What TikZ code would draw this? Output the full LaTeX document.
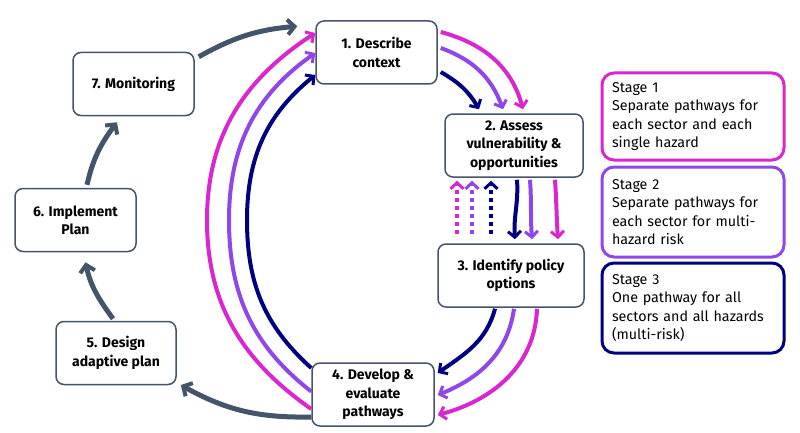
\documentclass[tikz,border=0pt]{standalone}
\usepackage{fontspec}
\setmainfont{Fira Sans}
\usetikzlibrary{arrows.meta}
\definecolor{slate}{RGB}{68,84,106}
\definecolor{mag}{RGB}{218,38,206}
\definecolor{vio}{RGB}{145,70,232}
\definecolor{nav}{RGB}{0,0,128}
\begin{document}
\begin{tikzpicture}[x=1pt,y=1pt,
  stepbox/.style={draw=slate,line width=1.5pt,rounded corners=8pt,fill=white,minimum height=63pt,
    align=center,inner sep=2pt,font=\bfseries\fontsize{14}{18.3}\selectfont},
  stagebox/.style={line width=3pt,rounded corners=12pt,minimum width=182pt,text width=162pt,
    align=left,inner xsep=10pt,font=\fontsize{14.3}{18.3}\selectfont},
  flow/.style={line width=4pt,-{Straight Barb[length=6pt,width=13pt,line width=3pt]}},
  back/.style={slate,line width=5pt,-{Straight Barb[length=7pt,width=15pt,line width=4pt]}},
  dotflow/.style={flow,dash pattern=on 4pt off 4pt}]
\useasboundingbox (0,0) rectangle (800,432);
\node[stepbox,minimum width=121pt] (d1) at (376.5,379.5) {1. Describe\\context};
\node[stepbox,minimum width=138pt] (d2) at (514,286.5) {2. Assess\\vulnerability \&\\opportunities};
\node[stepbox,minimum width=146pt] (d3) at (511,156.5) {3. Identify policy\\options};
\node[stepbox,minimum width=122pt] (d4) at (373,37.5) {4. Develop \&\\evaluate\\pathways};
\node[stepbox,minimum width=120pt] (d5) at (116,79) {5. Design\\adaptive plan};
\node[stepbox,minimum width=121pt] (d6) at (75.5,212) {6. Implement\\Plan};
\node[stepbox,minimum width=121pt] (d7) at (133.5,348) {7. Monitoring};
\node[stagebox,draw=mag,minimum height=87pt] (s1) at (693,315.5)
  {Stage 1\\Separate pathways for\\each sector and each\\single hazard};
\node[stagebox,draw=vio,minimum height=90pt] (s2) at (693,220)
  {Stage 2\\Separate pathways for\\each sector for multi-\\hazard risk};
\node[stagebox,draw=nav,minimum height=90pt] (s3) at (693,124)
  {Stage 3\\One pathway for all\\sectors and all hazards\\(multi-risk)};
\coordinate (ret) at ([xshift=-18pt,yshift=-6pt]d1.north west);
\coordinate (lmag) at (207,212);
\coordinate (lvio) at (229,212);
\coordinate (lnav) at (247,212);
\draw[flow,mag] ([yshift=-14.5pt]d4.west) to[out=145,in=-90] (lmag) to[out=90,in=213] ([yshift=19.5pt]d1.west);
\draw[flow,vio] ([yshift=3pt]d4.west) to[out=142,in=-90] (lvio) to[out=90,in=215] ([yshift=-0.5pt]d1.west);
\draw[flow,nav] ([yshift=26.5pt]d4.west) to[out=138,in=-90] (lnav) to[out=90,in=219] ([yshift=-22.5pt]d1.west);
\draw[flow,mag] ([xshift=3pt,yshift=20.5pt]d1.east) to[out=-15,in=105] ([xshift=9pt,yshift=4pt]d2.north);
\draw[flow,vio] ([xshift=3pt,yshift=4.5pt]d1.east) to[out=-20,in=110] ([xshift=-11pt,yshift=4pt]d2.north);
\draw[flow,nav] ([xshift=3pt,yshift=-19.5pt]d1.east) to[out=-30,in=120] ([xshift=-35pt,yshift=4pt]d2.north);
\draw[flow,nav] ([xshift=3pt,yshift=-2pt]d2.south) to[out=-86,in=94] ([xshift=4pt,yshift=4pt]d3.north);
\draw[flow,vio] ([xshift=16pt,yshift=-2pt]d2.south) to[out=-86,in=94] ([xshift=21pt,yshift=4pt]d3.north);
\draw[flow,mag] ([xshift=41pt,yshift=-2pt]d2.south) to[out=-86,in=94] ([xshift=47pt,yshift=4pt]d3.north);
\draw[dotflow,mag] ([xshift=-54pt,yshift=9pt]d3.north) -- ([xshift=-57pt,yshift=-3pt]d2.south);
\draw[dotflow,vio] ([xshift=-39pt,yshift=9pt]d3.north) -- ([xshift=-42pt,yshift=-3pt]d2.south);
\draw[dotflow,nav] ([xshift=-20pt,yshift=9pt]d3.north) -- ([xshift=-23pt,yshift=-3pt]d2.south);
\draw[flow,nav] ([xshift=-16pt,yshift=-1pt]d3.south) to[out=-105,in=35] ([xshift=3pt,yshift=21.5pt]d4.east);
\draw[flow,vio] ([xshift=3pt,yshift=-1pt]d3.south) to[out=-98,in=22] ([xshift=3pt,yshift=-0.5pt]d4.east);
\draw[flow,mag] ([xshift=26pt,yshift=-1pt]d3.south) to[out=-92,in=15] ([xshift=3pt,yshift=-20.5pt]d4.east);
\draw[back] ([yshift=-22.5pt]d4.west) to[out=181,in=-29] ([xshift=4pt,yshift=-32pt]d5.east);
\draw[back] ([xshift=-3pt,yshift=2pt]d5.north) to[out=126,in=-78] ([xshift=10pt,yshift=-10pt]d6.south);
\draw[back] ([xshift=11.5pt,yshift=3pt]d6.north) to[out=77,in=-127] ([xshift=-16.5pt,yshift=-6pt]d7.south);
\draw[back] ([xshift=4pt,yshift=-5pt]d7.north east) to[out=29,in=185] (ret);
\end{tikzpicture}
\end{document}
